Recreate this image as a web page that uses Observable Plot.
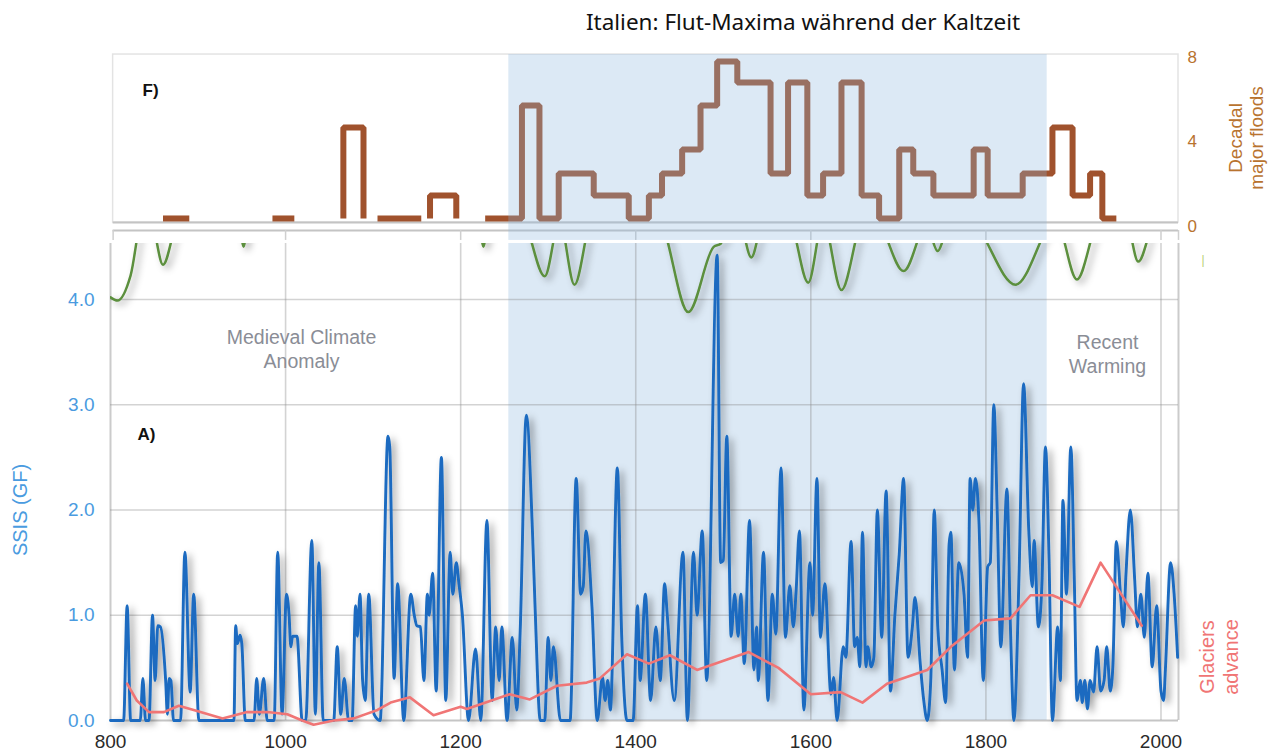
<!DOCTYPE html>
<html><head><meta charset="utf-8">
<script src="https://cdn.jsdelivr.net/npm/d3@7"></script>
<script src="https://cdn.jsdelivr.net/npm/@observablehq/plot@0.6"></script>
<style>
html,body{margin:0;padding:0;background:#fff;}
body{width:1275px;height:756px;position:relative;overflow:hidden;font-family:"Liberation Sans",Arial,sans-serif;}
#title{position:absolute;left:803px;top:8px;transform:translateX(-50%);white-space:nowrap;font-family:"Noto Sans","Open Sans",sans-serif;font-size:22.5px;color:#111;line-height:28px;}
#top{position:absolute;left:0;top:0;}
#bottom{position:absolute;left:0;top:243px;}
</style></head><body>
<div id="title">Italien: Flut-Maxima während der Kaltzeit</div>
<div id="top"></div>
<div id="bottom"></div>
<script>
// ---------- DATA ----------
const liaStart = [1255];
const liaEnd = [1870];
const xTicks = [800, 1000, 1200, 1400, 1600, 1800, 2000];
const gridYears = [1000, 1200, 1400, 1600, 1800, 2000];
const floodTicks = [0, 4, 8];
const ssisTicks = [0, 1, 2, 3, 4];

// F) decadal major floods (step line), values read in axis units
const floodYear = [860, 890, 985, 1010, 1066, 1066, 1089, 1105, 1155, 1165, 1165, 1195,
  1228, 1270, 1290, 1312, 1352, 1392, 1415, 1430, 1453, 1474, 1493, 1516, 1554, 1574, 1596,
  1614, 1635, 1658, 1678, 1701, 1717, 1740, 1786, 1802, 1842, 1876, 1899, 1919, 1933, 1949];
const floodValue = [0.38, 0.38, 0.38, 0.38, 0.38, 4.69, 0.38, 0.38, 0.38, 0.38, 1.47, 0.38,
  0.38, 5.73, 0.38, 2.51, 1.47, 0.38, 1.47, 2.51, 3.64, 5.73, 7.81, 6.82, 2.51, 6.82, 1.47,
  2.51, 6.82, 1.47, 0.38, 3.64, 2.51, 1.47, 3.64, 1.47, 2.51, 4.69, 1.47, 2.51, 0.38, 0.38];
const floodRun = [1, 1, 2, 2, 3, 3, 3, 4, 4, 5, 5, 5,
  6, 6, 6, 6, 6, 6, 6, 6, 6, 6, 6, 6, 6, 6, 6, 6, 6, 6, 6, 6, 6, 6, 6, 6, 6, 6, 6, 6, 6, 6];

// A) SSIS (GF)
const ssisYear = [800,815,819,823,834,837,840,844,848,851,854,857,863,865,867,869,872,880,885,891,895,901,
  941,943,945,948,950,954,964,967,970,975,979,987,991,996,1001,1004,1006,1008,1013,1019,1023,1030,1034,1038,1043,
  1055,1059,1063,1067,1072,1076,1080,1082,1085,1088,1091,1095,1101,1108,1117,1119,1124,1128,1135,
  1143,1147,1150,1154,1158,1162,1164,1168,1172,1178,1183,1188,1191,1195,1198,1202,1209,1217,1223,1230,1236,
  1240,1244,1247,1253,1259,1264,1268,1275,1282,1285,1291,1296,1300,1303,1306,1314,1325,1332,1337,1340,1343,
  1350,1356,1362,1365,1368,1371,1379,1384,1390,1397,1402,1405,1411,1417,1423,1428,1433,1436,1444,1454,1459,
  1466,1470,1476,1481,1493,1497,1500,1504,1509,1513,1517,1520,1524,1530,1535,1538,1540,1546,1551,1556,1560,
  1566,1571,1576,1580,1583,1587,1592,1599,1602,1607,1611,1616,1623,1626,1630,1637,1640,1646,1650,1653,1656,
  1659,1663,1665,1669,1672,1676,1681,1686,1691,1696,1701,1706,1711,1716,1719,1725,1729,1733,1737,1741,1745,
  1750,1754,1758,1760,1764,1769,1775,1779,1782,1785,1788,1792,1797,1802,1805,1809,1813,1817,1824,1828,1832,
  1838,1843,1849,1853,1855,1860,1864,1868,1872,1876,1882,1885,1888,1892,1897,1901,1904,1908,1910,1913,1916,
  1919,1923,1927,1931,1935,1938,1942,1945,1949,1954,1957,1960,1965,1970,1973,1977,1981,1985,1990,1995,2000,
  2003,2005,2011,2015,2019];
const ssisValue = [0,0,1.09,0,0,0.4,0,0,1.0,0.38,0.9,0.89,0.38,0.06,0.4,0.38,0,0,1.6,0.27,1.2,0,
  0,0.9,0.73,0.81,0.73,0,0,0.4,0.06,0.4,0,0,1.6,0.06,1.2,1.0,0.7,0.8,0.8,0,0,1.71,0.06,1.5,0,
  0,0.7,0.06,0.4,0,0,1.09,0.8,1.2,0.38,0.19,1.2,0.06,0,2.7,2.6,0.4,1.3,0,
  1.2,1.0,0.9,0.89,0.38,1.2,1.0,1.4,0.28,2.5,0.19,1.6,1.2,1.5,1.3,1.0,0,0.68,0,1.9,0.19,
  0.89,0.38,0.89,0,0.79,0.1,0.85,2.9,1.8,1.08,0,0,0.79,0.38,0.7,0,0,2.3,1.2,1.27,1.8,
  1.08,0,0.41,0.19,0.38,0.1,2.4,0.79,0,0,1.09,0.38,1.2,0.19,0.89,0.38,1.3,1.0,0.19,1.6,0,
  1.6,1.0,1.8,0.38,4.42,1.5,1.52,2.7,0.8,1.2,0.8,1.2,0.54,1.9,0.48,0.89,0.38,1.6,0.19,1.2,0.82,
  2.4,0.79,1.28,0.89,1.2,1.8,0.1,1.5,1.0,2.3,0.79,1.3,0.25,0.41,0,0.7,0.6,1.7,0.7,0.79,0.51,
  1.79,0.51,0.7,0.51,0.6,2.0,0.79,2.18,0.28,1.0,1.58,2.3,0.6,0.89,1.17,0.54,0.19,0,0.38,2.0,0.89,
  0.48,0.17,1.68,1.79,0.48,1.5,1.2,0.6,2.3,2.0,2.3,1.9,0.38,1.46,1.5,3.0,1.96,0.7,2.2,0.89,0,
  1.43,3.2,1.8,1.27,1.71,0.89,1.3,2.6,1.58,0,0.89,0.38,2.09,1.2,2.6,1.33,0.19,0.38,0.17,0.38,0.11,
  0.38,0.27,0.7,0.28,0.38,0.7,0.28,0.51,1.7,1.17,0.89,1.39,2.0,1.33,0.89,1.2,0.79,1.4,0.51,1.09,0.28,
  0.19,0.48,1.5,1.2,0.6];

// Glaciers advance (drawn in SSIS units)
const glacierYear = [819,830,844,861,878,895,928,956,979,1002,1019,1032,1055,1078,1105,1120,1142,1169,1200,1207,
  1256,1279,1310,1344,1359,1390,1415,1439,1470,1529,1563,1600,1634,1659,1687,1733,1760,1798,1828,1851,1876,1907,1931,1978];
const glacierValue = [0.35,0.19,0.08,0.08,0.14,0.1,0.02,0.08,0.08,0.06,0.0,-0.04,0.0,0.02,0.1,0.17,0.22,0.05,0.13,0.11,
  0.25,0.2,0.33,0.36,0.4,0.63,0.54,0.62,0.48,0.65,0.5,0.25,0.27,0.17,0.35,0.48,0.7,0.95,0.97,1.19,1.19,1.08,1.5,0.9];

// clipped green curve from the panel above (only its dips are visible), in SSIS units
const greenYear = [800,808,823,836,846,860,878,946,952,958,1220,1226,1232,1270,1296,1313,1330,1350,1426,1460,1489,1497,
  1510,1518,1532,1546,1575,1597,1614,1635,1660,1674,1706,1734,1738,1745,1753,1780,1834,1880,1904,1930,1960,1974,1994,2020];
const greenValue = [4.02,3.99,4.23,4.75,4.75,4.33,4.75,4.75,4.5,4.75,4.75,4.5,4.75,4.75,4.22,4.75,4.14,4.75,4.75,3.88,4.5,4.53,
  4.75,4.75,4.4,4.75,4.75,4.16,4.75,4.09,4.75,4.75,4.27,4.75,4.6,4.46,4.6,4.75,4.14,4.75,4.19,4.75,4.75,4.36,4.75,4.75];

// ---------- TABLES ----------
const lia = liaStart.map((s, i) => ({start: s, end: liaEnd[i]}));
const floods = floodYear.map((y, i) => ({year: y, value: floodValue[i], run: floodRun[i]}));
const ssis = ssisYear.map((y, i) => ({year: y, value: ssisValue[i]}));
const glaciers = glacierYear.map((y, i) => ({year: y, value: glacierValue[i]}));
const green = greenYear.map((y, i) => ({year: y, value: greenValue[i]}));

const FONT = "'Liberation Sans', Arial, sans-serif";
const brown = "#a0522d";
const axisBrown = "#b8732f";
const blue = "#1a6bc0";
const blueText = "#4a9be0";
const pink = "#f07575";
const greenC = "#5b8f3e";
const grid = "#8c8c8c";

// ---------- TOP PANEL (F) ----------
const topPlot = Plot.plot({
  width: 1275, height: 241,
  marginLeft: 110, marginRight: 97, marginTop: 57, marginBottom: 15,
  style: {fontFamily: FONT, background: "transparent", overflow: "visible"},
  x: {domain: [800, 2020], axis: null},
  y: {domain: [0, 8], axis: null},
  marks: [
    Plot.rect([0], {x1: 803, x2: 2020, y1: 0.19, y2: 8.14, stroke: "#e3e3e3", strokeWidth: 1.5, fill: "none"}),
    Plot.ruleY([0.19], {x1: 803, x2: 2020, stroke: "#c4c4c4", strokeWidth: 2}),
    Plot.ruleY([-0.19], {x1: 803, x2: 2020, stroke: "#c4c4c4", strokeWidth: 2}),
    Plot.ruleX(gridYears.concat([803, 2020]), {y1: -0.19, y2: -0.66, stroke: "#cfcfcf", strokeWidth: 1.5}),
    Plot.line(floods, {x: "year", y: "value", z: "run", curve: "step-after", stroke: brown,
      strokeWidth: 6, strokeLinejoin: "miter", strokeLinecap: "butt"}),
    Plot.rect(lia, {x1: "start", x2: "end", y1: -0.66, y2: 8.14, fill: "#8ab5dd", fillOpacity: 0.3}),
    Plot.text(floodTicks, {y: d => d, text: d => String(d), frameAnchor: "right", dx: 9, textAnchor: "start",
      fill: axisBrown, fontSize: 17}),
    Plot.text(["Decadal\nmajor floods"], {frameAnchor: "right", rotate: -90, dx: 67, dy: -4,
      textAnchor: "middle", lineAnchor: "middle", fill: axisBrown, fontSize: 19, lineHeight: 1.15}),
    Plot.text(["F)"], {frameAnchor: "top-left", dx: 32, dy: 33, textAnchor: "start", lineAnchor: "middle",
      fontWeight: "bold", fontSize: 17, fill: "#111"})
  ]
});
document.getElementById("top").appendChild(topPlot);

// ---------- BOTTOM PANEL (A) ----------
const bottomPlot = Plot.plot({
  width: 1275, height: 513,
  marginLeft: 110, marginRight: 97, marginTop: 0, marginBottom: 36,
  style: {fontFamily: FONT, background: "transparent", overflow: "visible"},
  x: {domain: [800, 2020]},
  y: {domain: [0, 4.532]},
  marks: [
    Plot.rect(lia, {x1: "start", x2: "end", y1: 0, y2: 4.532, fill: "#dce9f5"}),
    Plot.ruleY(ssisTicks.slice(1), {stroke: grid, strokeOpacity: 0.38, strokeWidth: 1.6}),
    Plot.ruleX(gridYears, {stroke: grid, strokeOpacity: 0.38, strokeWidth: 1.6}),
    Plot.ruleX([800, 2020], {stroke: grid, strokeOpacity: 0.45, strokeWidth: 2}),
    Plot.ruleY([0], {stroke: grid, strokeOpacity: 0.5, strokeWidth: 2}),
    Plot.line(green, {x: "year", y: "value", curve: "monotone-x", stroke: greenC, strokeWidth: 2.5, clip: true}),
    Plot.line(ssis, {x: "year", y: "value", curve: "monotone-x", stroke: blue, strokeWidth: 2.9, strokeLinejoin: "round"}),
    Plot.line(glaciers, {x: "year", y: "value", stroke: pink, strokeWidth: 2.6}),
    Plot.text(["Medieval Climate\nAnomaly"], {frameAnchor: "top-left", dx: 191, dy: 105, textAnchor: "middle",
      lineAnchor: "middle", fill: "#8a8d96", fontSize: 19.5, lineHeight: 1.2}),
    Plot.text(["Recent\nWarming"], {frameAnchor: "top-left", dx: 997, dy: 110, textAnchor: "middle",
      lineAnchor: "middle", fill: "#8a8d96", fontSize: 19.5, lineHeight: 1.2}),
    Plot.text(["A)"], {frameAnchor: "top-left", dx: 27, dy: 191.5, textAnchor: "start", lineAnchor: "middle",
      fontWeight: "bold", fontSize: 17, fill: "#111"}),
    Plot.text(["SSIS (GF)"], {frameAnchor: "left", rotate: -90, dx: -90, dy: 28, textAnchor: "middle",
      lineAnchor: "middle", fill: blueText, fontSize: 20}),
    Plot.text(["Glaciers\nadvance"], {frameAnchor: "right", rotate: -90, dx: 40, dy: 175, textAnchor: "middle",
      lineAnchor: "middle", fill: pink, fontSize: 20, lineHeight: 1.2}),
    Plot.text(["|"], {frameAnchor: "top-right", dx: 26, dy: 12, fill: "#b8cf73", fontSize: 12}),
    Plot.axisX(xTicks, {tickSize: 0, tickPadding: 14, fontSize: 19, color: "#2a2a2a", tickFormat: d => String(d), label: null}),
    Plot.axisY(ssisTicks, {tickSize: 0, tickPadding: 16, fontSize: 19, color: blueText, tickFormat: d => d.toFixed(1), label: null})
  ]
});
document.getElementById("bottom").appendChild(bottomPlot);

// soft drop shadows like the original graphic
(function addShadow(svg) {
  const s = d3.select(svg);
  const defs = s.insert("defs", ":first-child");
  const f = defs.append("filter").attr("id", "shadowA").attr("filterUnits", "userSpaceOnUse")
    .attr("x", 0).attr("y", -20).attr("width", 1275).attr("height", 540);
  f.append("feDropShadow").attr("dx", 4).attr("dy", 3).attr("stdDeviation", 3.5)
    .attr("flood-color", "#000").attr("flood-opacity", 0.38);
  s.selectAll("g").filter(function() {
    const st = this.getAttribute("stroke");
    return st === blue || st === greenC;
  }).attr("filter", "url(#shadowA)");
})(bottomPlot);
</script>
</body></html>
